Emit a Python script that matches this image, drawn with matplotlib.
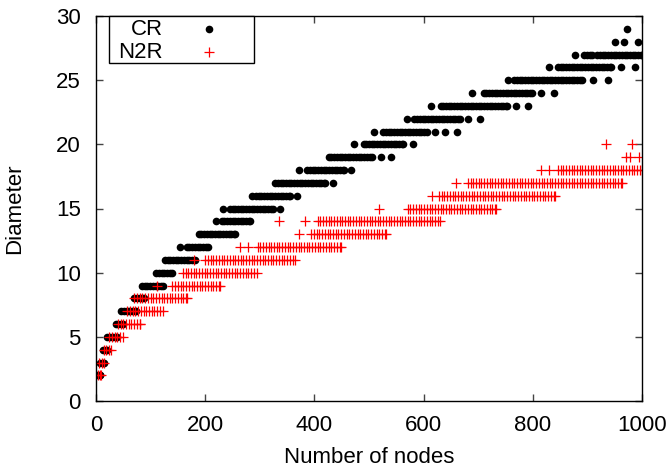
import numpy as np
import matplotlib.pyplot as plt
from matplotlib.patches import Rectangle

plt.rcParams["font.family"] = ["Liberation Sans", "DejaVu Sans"]

# --- data ---
# dense stretches: (diameter, first node, last node); nodes sampled every 5
cr_runs = [
    (2, 2, 8), (3, 7, 15), (4, 13, 21), (5, 21, 39), (6, 36, 50),
    (7, 46, 74), (8, 70, 88), (9, 84, 122), (10, 110, 140), (11, 126, 181),
    (12, 166, 206), (13, 188, 255), (14, 230, 282), (15, 245, 325),
    (16, 293, 355), (17, 328, 420), (18, 387, 454), (19, 426, 506),
    (20, 490, 562), (21, 526, 606), (22, 583, 666), (23, 631, 752),
    (24, 710, 798), (25, 766, 890), (26, 846, 944), (27, 894, 908),
    (27, 918, 1000),
]
# isolated points: (diameter, node)
cr_single = [
    (12, 154), (14, 220), (15, 233), (15, 337), (16, 285), (16, 368),
    (17, 434), (18, 372), (18, 467), (19, 522), (19, 540), (20, 473),
    (20, 580), (21, 509), (21, 621), (21, 640), (21, 661), (22, 570),
    (22, 682), (22, 704), (23, 613), (23, 770), (23, 792), (24, 688),
    (24, 815), (24, 839), (25, 754), (25, 911), (25, 937), (26, 829),
    (26, 962), (26, 988), (27, 878), (28, 950), (28, 967), (28, 992),
    (29, 973),
]

n2r_runs = [
    (2, 3, 10), (3, 6, 14), (4, 14, 27), (5, 24, 49), (6, 40, 81),
    (7, 57, 122), (8, 70, 166), (9, 140, 227), (10, 159, 294),
    (11, 200, 365), (12, 296, 448), (13, 394, 532), (14, 406, 630),
    (15, 571, 732), (16, 628, 841), (17, 681, 963), (18, 846, 1000),
]
n2r_single = [
    (9, 111), (11, 180), (12, 263), (12, 279), (13, 371), (14, 335),
    (14, 382), (15, 519), (16, 615), (17, 660), (18, 815), (18, 830),
    (19, 970), (19, 978), (19, 995), (20, 934), (20, 982),
]

step = 5


def expand(runs, singles):
    xs, ys = [], []
    for d, a, b in runs:
        nodes = list(range(a, b + 1, step))
        if nodes[-1] != b:
            nodes.append(b)
        xs += nodes
        ys += [d] * len(nodes)
    for d, n in singles:
        xs.append(n)
        ys.append(d)
    return np.array(xs), np.array(ys)


cr_x, cr_y = expand(cr_runs, cr_single)
n2r_x, n2r_y = expand(n2r_runs, n2r_single)

fig = plt.figure(figsize=(6.7, 4.7), dpi=100)
ax = fig.add_axes([96 / 670, 69 / 470, 546 / 670, 385 / 470])

ax.plot(cr_x, cr_y, "o", color="black", markersize=5.5, markeredgewidth=0)
ax.plot(n2r_x, n2r_y, "+", color="red", markersize=7, markeredgewidth=0.9)

ax.set_xlim(0, 1000)
ax.set_ylim(0, 30)
ax.set_xticks(range(0, 1001, 200))
ax.set_yticks(range(0, 31, 5))
ax.tick_params(direction="in", length=5, width=1, color="#444444",
               top=True, right=True, labelsize=16)
ax.tick_params(axis="x", pad=10)
ax.tick_params(axis="y", pad=11)
for s in ax.spines.values():
    s.set_linewidth(1)

ax.set_xlabel("Number of nodes", fontsize=16, labelpad=8)
ax.set_ylabel("Diameter", fontsize=16, labelpad=22)

# gnuplot style key: label right-aligned, sample on the right
ax.add_patch(Rectangle((0.024, 0.878), 0.265, 0.122, transform=ax.transAxes,
                       facecolor="white", edgecolor="black", linewidth=1,
                       zorder=5, clip_on=False))
ax.text(0.1227, 0.966, "CR", transform=ax.transAxes, ha="right", va="center",
        fontsize=16, zorder=6)
ax.text(0.1227, 0.906, "N2R", transform=ax.transAxes, ha="right", va="center",
        fontsize=16, zorder=6)
ax.plot([0.207], [0.966], "o", color="black", markersize=5.5,
        markeredgewidth=0, transform=ax.transAxes, zorder=6, clip_on=False)
ax.plot([0.207], [0.906], "+", color="red", markersize=7,
        markeredgewidth=0.9, transform=ax.transAxes, zorder=6, clip_on=False)

fig.savefig("out.png", dpi=100)
